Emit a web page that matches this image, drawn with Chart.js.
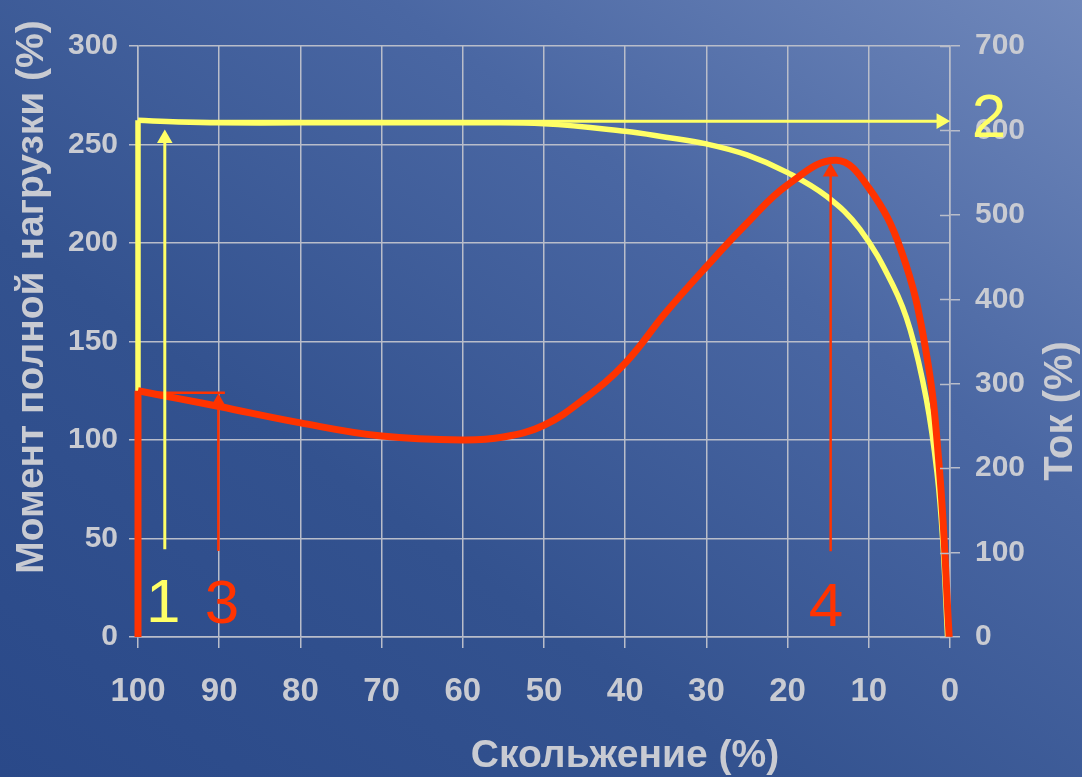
<!DOCTYPE html>
<html>
<head>
<meta charset="utf-8">
<script src="https://cdn.jsdelivr.net/npm/chart.js@4"></script>
<style>
    html, body {
        margin: 0;
        padding: 0;
        overflow: hidden;
    }
    #wrap {
        width: 1082px;
        height: 777px;
        position: relative;
        background: linear-gradient(to top right, #2a4989 0%, #33528f 35%, #4a67a3 68%, #7088bb 100%);
    }
</style>
</head>
<body>
<div id="wrap"><canvas id="chart"></canvas></div>
<script>
// Slip (%) on the x axis
const currentStartSlip = [100, 100];
const currentStartValues = [0, 612];
const currentSlip = [100, 95, 90, 80, 70, 60, 50, 40, 35, 30, 25, 20, 15.2, 11.1, 7, 4.9, 2.9, 1.6, 0.9, 0.3];
const currentValues = [612, 610, 609, 609, 609, 609, 608, 599, 592, 584, 571, 550, 522, 483, 416, 364, 281, 195, 115, 0];

const torqueStartSlip = [100, 100];
const torqueStartValues = [0, 125];
const torqueSlip = [100, 95, 90, 80, 70, 60, 55, 50, 45, 40, 35, 30, 25, 20, 14, 10, 6, 3, 1.3, 0.1];
const torqueValues = [125, 121, 117, 108.7, 102, 100, 101.5, 107.5, 121, 139, 164.7, 188, 210, 229.5, 242, 228, 196, 146, 85, 0];

// Axis ticks
const slipTicks = [100, 90, 80, 70, 60, 50, 40, 30, 20, 10, 0];
const torqueTicks = [0, 50, 100, 150, 200, 250, 300];
const currentTicks = [0, 100, 200, 300, 400, 500, 600, 700];

// Annotation arrows: [x start, x end], [y start, y end]
const arrow1X = [96.7, 96.7], arrow1Y = [44.5, 253];   // yellow, left axis
const arrow2X = [100, 1.1], arrow2Y = [611, 611];      // yellow, right axis
const arrow3X = [90.1, 90.1], arrow3Y = [43.7, 120];   // red, left axis
const arrow4X = [14.7, 14.7], arrow4Y = [43.5, 236];   // red, left axis
const mark3X = [100, 89.3], mark3Y = [124, 124];       // red short level line

// Numbered callouts
const calloutText = ['1', '2', '3', '4'];
const calloutX = [96.9, -4.8, 89.65, 15.27];
const calloutY = [7.4, 592, 6.9, 5.8];
const calloutAxis = ['y', 'y2', 'y', 'y'];
const calloutColor = ['#ffff66', '#ffff66', '#ff3300', '#ff3300'];

const YELLOW = '#ffff66';
const RED = '#ff3300';
const TEXT = '#c9cbd2';
const GRID = '#b9bdca';
const FONT = '"Liberation Sans", Arial, sans-serif';

function pts(xs, ys) {
    return xs.map((x, i) => ({ x: x, y: ys[i] }));
}

function curveSet(xs, ys, color, axis, width, tension, order) {
    return {
        data: pts(xs, ys),
        yAxisID: axis,
        borderColor: color,
        borderWidth: width,
        pointRadius: 0,
        pointHoverRadius: 0,
        tension: tension,
        clip: 8,
        order: order
    };
}

function arrowSet(xs, ys, color, axis, width, head, rotation) {
    return {
        data: pts(xs, ys),
        yAxisID: axis,
        borderColor: color,
        backgroundColor: color,
        borderWidth: width,
        pointRadius: [0, head],
        pointHoverRadius: 0,
        pointStyle: 'triangle',
        pointRotation: rotation,
        pointBorderWidth: 0,
        pointBackgroundColor: color,
        tension: 0,
        order: 1
    };
}

// Titles, inner right-axis ticks and numbered callouts
const extrasPlugin = {
    id: 'extras',
    afterDatasetsDraw(chart) {
        const ctx = chart.ctx;
        const x = chart.scales.x;
        const y2 = chart.scales.y2;
        ctx.save();

        // inner half of the right-axis ticks
        ctx.strokeStyle = GRID;
        ctx.lineWidth = 1.5;
        currentTicks.forEach(v => {
            const py = Math.round(y2.getPixelForValue(v)) + 0.5;
            ctx.beginPath();
            ctx.moveTo(chart.chartArea.right - 10, py);
            ctx.lineTo(chart.chartArea.right, py);
            ctx.stroke();
        });

        // callouts
        ctx.font = '62px ' + FONT;
        ctx.textAlign = 'center';
        ctx.textBaseline = 'alphabetic';
        calloutText.forEach((t, i) => {
            ctx.fillStyle = calloutColor[i];
            ctx.fillText(t, x.getPixelForValue(calloutX[i]), chart.scales[calloutAxis[i]].getPixelForValue(calloutY[i]));
        });

        // axis titles
        ctx.fillStyle = TEXT;
        ctx.textBaseline = 'middle';
        ctx.font = 'bold 39px ' + FONT;
        ctx.fillText('Скольжение (%)', 625, 756);

        ctx.save();
        ctx.translate(32, 297);
        ctx.rotate(-Math.PI / 2);
        ctx.font = 'bold 39px ' + FONT;
        ctx.fillText('Момент полной нагрузки (%)', 0, 0);
        ctx.restore();

        ctx.save();
        ctx.translate(1061, 411);
        ctx.rotate(-Math.PI / 2);
        ctx.font = 'bold 40px ' + FONT;
        ctx.fillText('Ток (%)', 0, 0);
        ctx.restore();

        ctx.restore();
    }
};

const ctx = document.getElementById('chart').getContext('2d');
new Chart(ctx, {
    type: 'line',
    data: {
        datasets: [
            curveSet(currentStartSlip, currentStartValues, YELLOW, 'y2', 5.5, 0, 6),
            curveSet(currentSlip, currentValues, YELLOW, 'y2', 5.5, 0.4, 5),
            curveSet(torqueStartSlip, torqueStartValues, RED, 'y', 7, 0, 4),
            curveSet(torqueSlip, torqueValues, RED, 'y', 7, 0.4, 3),
            arrowSet(arrow1X, arrow1Y, YELLOW, 'y', 3, 9, 0),
            arrowSet(arrow2X, arrow2Y, YELLOW, 'y2', 3, 9, 90),
            arrowSet(arrow3X, arrow3Y, RED, 'y', 2.5, 7, 0),
            arrowSet(arrow4X, arrow4Y, RED, 'y', 2.5, 9, 0),
            arrowSet(mark3X, mark3Y, RED, 'y', 2.5, 0, 0)
        ]
    },
    options: {
        responsive: true,
        maintainAspectRatio: false,
        animation: false,
        layout: {
            padding: { top: 46, left: 0, right: 0, bottom: 0 }
        },
        plugins: {
            legend: { display: false },
            tooltip: { enabled: false }
        },
        scales: {
            x: {
                type: 'linear',
                reverse: true,
                min: 0,
                max: 100,
                afterBuildTicks: (scale) => {
                    scale.ticks = slipTicks.map(v => ({ value: v }));
                },
                ticks: {
                    color: TEXT,
                    font: { family: FONT, size: 33, weight: 'bold' },
                    padding: 24,
                    maxRotation: 0
                },
                grid: {
                    color: GRID,
                    lineWidth: 1.5,
                    tickLength: 11
                },
                border: { color: GRID, width: 1.5 },
                afterFit: (scale) => { scale.height = 140; }
            },
            y: {
                position: 'left',
                min: 0,
                max: 300,
                afterBuildTicks: (scale) => {
                    scale.ticks = torqueTicks.map(v => ({ value: v }));
                },
                ticks: {
                    color: TEXT,
                    font: { family: FONT, size: 30, weight: 'bold' },
                    padding: 11
                },
                grid: {
                    color: GRID,
                    lineWidth: 1.5,
                    tickLength: 9
                },
                border: { color: GRID, width: 1.5 },
                afterFit: (scale) => { scale.width = 138; }
            },
            y2: {
                position: 'right',
                min: 0,
                max: 700,
                afterBuildTicks: (scale) => {
                    scale.ticks = currentTicks.map(v => ({ value: v }));
                },
                ticks: {
                    color: TEXT,
                    font: { family: FONT, size: 30, weight: 'bold' },
                    padding: 15
                },
                grid: {
                    color: GRID,
                    lineWidth: 1.5,
                    tickLength: 10,
                    drawOnChartArea: false
                },
                border: { color: GRID, width: 1.5 },
                afterFit: (scale) => { scale.width = 132; }
            }
        }
    },
    plugins: [extrasPlugin]
});
</script>
</body>
</html>
